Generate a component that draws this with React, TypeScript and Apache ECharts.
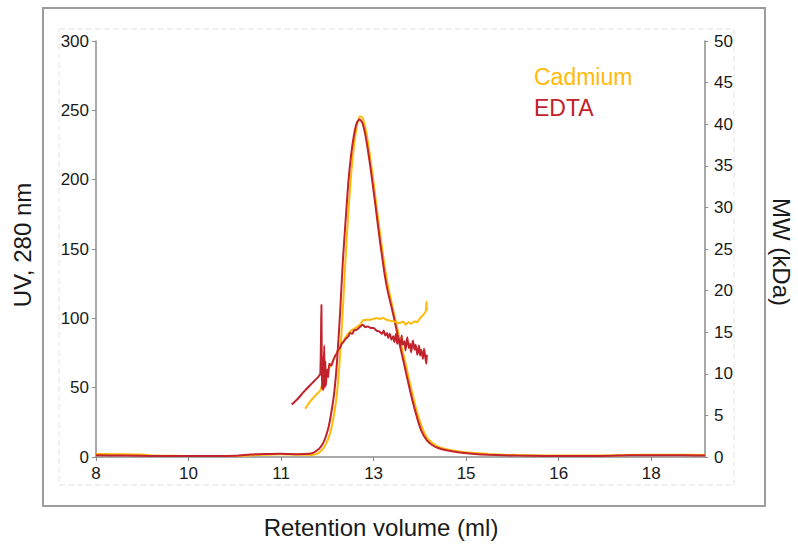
import React, { useEffect, useRef } from "react";
import * as echarts from "echarts";

const xTickValues = [8, 9.65, 11.3, 12.95, 14.6, 16.25, 17.9];
const xMin = 8;
const xMax = 18.86;
const uvMax = 300;
const mwMax = 50;

const seriesNames = ["Cadmium", "EDTA"];
const seriesColors = ["#FFBA0A", "#C1222C"];

const cadmiumUV: [number, number][] = [
  [8.0, 2.2], [8.3, 2.0], [8.8, 1.8], [9.0, 1.0], [9.5, 0.8], [10.0, 0.7], [10.5, 0.8],
  [10.8, 1.3], [11.0, 1.6], [11.3, 2.0], [11.6, 1.6], [11.85, 1.5], [11.95, 2.5], [12.0, 4],
  [12.05, 6], [12.1, 9.5], [12.15, 14], [12.2, 21], [12.25, 32], [12.3, 47], [12.35, 72],
  [12.4, 105], [12.45, 143], [12.5, 176], [12.55, 204], [12.6, 224], [12.65, 238], [12.7, 245.5],
  [12.75, 245], [12.8, 238], [12.85, 227], [12.9, 213], [12.95, 198], [13.0, 182], [13.05, 166],
  [13.1, 151], [13.15, 137], [13.2, 125], [13.3, 106], [13.4, 88], [13.5, 71], [13.6, 53],
  [13.7, 36], [13.8, 23], [13.9, 14], [14.0, 10], [14.1, 7.5], [14.25, 5.6], [14.45, 4.2],
  [14.7, 3.0], [15.0, 2.2], [15.3, 1.6], [15.7, 1.2], [16.0, 1.0], [17.0, 1.0], [17.5, 1.5],
  [18.0, 1.6], [18.5, 1.6], [18.86, 1.5],
];

const edtaUV: [number, number][] = [
  [8.0, 1.2], [8.5, 1.0], [9.0, 0.8], [9.5, 0.8], [10.0, 0.7], [10.5, 0.9], [10.75, 1.8],
  [11.0, 2.2], [11.3, 2.4], [11.6, 2.0], [11.8, 2.3], [11.88, 3.2], [11.95, 5], [12.0, 7],
  [12.05, 10], [12.1, 15], [12.15, 22], [12.2, 33], [12.25, 47], [12.3, 70], [12.35, 102],
  [12.4, 140], [12.45, 170], [12.5, 198], [12.55, 218], [12.6, 232], [12.65, 241], [12.7, 243.5],
  [12.75, 241], [12.8, 233], [12.85, 221], [12.9, 207], [12.95, 192], [13.0, 176], [13.05, 160],
  [13.1, 145], [13.15, 131], [13.2, 120], [13.3, 103], [13.4, 84], [13.5, 66], [13.6, 48],
  [13.7, 32], [13.8, 19], [13.9, 12], [14.0, 8.5], [14.1, 6.5], [14.25, 4.8], [14.45, 3.4],
  [14.7, 2.4], [15.0, 1.6], [15.5, 1.0], [16.0, 0.8], [17.0, 0.8], [17.5, 1.2], [18.0, 1.3],
  [18.5, 1.2], [18.86, 1.0],
];

const cadmiumMW: [number, number][] = [
  [11.73, 5.8], [11.8, 6.5], [11.9, 7.3], [12.0, 8.0], [12.03, 8.6], [12.05, 8.2], [12.08, 9.2],
  [12.1, 9.8], [12.15, 10.6], [12.2, 11.2], [12.25, 11.9], [12.3, 12.6], [12.35, 13.2],
  [12.41, 13.9], [12.47, 14.6], [12.53, 15.1], [12.6, 15.4], [12.66, 15.7], [12.71, 15.9],
  [12.76, 16.4], [12.82, 16.5], [12.89, 16.5], [12.95, 16.6], [13.0, 16.7], [13.06, 16.6],
  [13.12, 16.7], [13.18, 16.5], [13.24, 16.4], [13.3, 16.3], [13.36, 16.2], [13.42, 16.1],
  [13.48, 16.3], [13.52, 15.9], [13.57, 16.2], [13.62, 16.0], [13.67, 16.3], [13.72, 16.2],
  [13.77, 16.6], [13.81, 16.9], [13.85, 17.2], [13.88, 17.5], [13.895, 18.7], [13.9, 17.6],
];

const edtaMW: [number, number][] = [
  [11.49, 6.3], [11.6, 7.0], [11.7, 7.8], [11.8, 8.5], [11.9, 9.2], [11.96, 9.6], [12.0, 10.0],
  [12.02, 18.3], [12.025, 11.5], [12.03, 8.2], [12.04, 12.0], [12.05, 8.0], [12.06, 11.0],
  [12.07, 13.4], [12.08, 8.3], [12.09, 11.5], [12.1, 8.6], [12.12, 10.5], [12.14, 9.6],
  [12.16, 11.2], [12.2, 11.0], [12.23, 11.6], [12.26, 12.1], [12.29, 12.4], [12.32, 12.9],
  [12.35, 13.1], [12.38, 13.6], [12.41, 13.8], [12.45, 14.2], [12.5, 14.5], [12.53, 14.9],
  [12.57, 14.8], [12.6, 15.2], [12.65, 15.3], [12.7, 15.6], [12.76, 15.9], [12.8, 15.6],
  [12.85, 15.7], [12.9, 15.5], [12.95, 15.5], [13.0, 15.2], [13.05, 15.1], [13.1, 14.8],
  [13.13, 15.2], [13.16, 14.6], [13.19, 14.9], [13.21, 14.3], [13.24, 14.8], [13.27, 14.1],
  [13.3, 14.5], [13.32, 13.8], [13.35, 14.8], [13.37, 13.6], [13.4, 14.2], [13.43, 13.3],
  [13.45, 14.6], [13.47, 13.5], [13.5, 13.9], [13.52, 12.8], [13.55, 14.4], [13.58, 13.1],
  [13.6, 13.6], [13.62, 12.6], [13.65, 14.0], [13.68, 12.9], [13.7, 13.5], [13.73, 12.3],
  [13.76, 13.4], [13.78, 12.2], [13.8, 12.9], [13.83, 11.8], [13.85, 13.0], [13.87, 12.1],
  [13.89, 11.2], [13.9, 12.3],
];

const FONT = "Liberation Sans, Arial, sans-serif";
const AXIS_COLOR = "#8c8c8c";

export default function App() {
  const ref = useRef<HTMLDivElement>(null);

  useEffect(() => {
    if (!ref.current) return;
    const chart = echarts.init(ref.current, null, { renderer: "svg" });

    const lineSeries = (name: string, color: string, data: [number, number][], yIdx: number) => ({
      name,
      type: "line",
      yAxisIndex: yIdx,
      data,
      showSymbol: false,
      symbol: "none",
      smooth: 0.2,
      lineStyle: { color, width: 2 },
      itemStyle: { color },
      emphasis: { disabled: true },
    });

    chart.setOption({
      animation: false,
      textStyle: { fontFamily: FONT },
      grid: { left: 96, right: 93, top: 41, bottom: 90 },
      legend: {
        orient: "vertical",
        left: 524,
        top: 60,
        icon: "none",
        itemWidth: 0,
        itemGap: 8,
        selectedMode: false,
        data: [
          { name: seriesNames[0], textStyle: { color: seriesColors[0], fontSize: 23, fontFamily: FONT } },
          { name: seriesNames[1], textStyle: { color: seriesColors[1], fontSize: 23, fontFamily: FONT } },
        ],
      },
      xAxis: {
        type: "value",
        min: xMin,
        max: xMax,
        axisLine: { show: true, lineStyle: { color: AXIS_COLOR, width: 1.5 } },
        axisTick: { show: true, length: 4, lineStyle: { color: AXIS_COLOR }, customValues: xTickValues },
        axisLabel: {
          customValues: xTickValues,
          formatter: (v: number) => String(Math.round(v)),
          color: "#1a1a1a",
          fontSize: 17,
          fontFamily: FONT,
          margin: 8,
        },
        splitLine: { show: false },
      },
      yAxis: [
        {
          type: "value",
          min: 0,
          max: uvMax,
          interval: 50,
          position: "left",
          axisLine: { show: true, lineStyle: { color: AXIS_COLOR, width: 1.5 } },
          axisTick: { show: true, length: 4, lineStyle: { color: AXIS_COLOR } },
          axisLabel: { color: "#1a1a1a", fontSize: 17, fontFamily: FONT, margin: 7 },
          splitLine: { show: false },
        },
        {
          type: "value",
          min: 0,
          max: mwMax,
          interval: 5,
          position: "right",
          axisLine: { show: true, lineStyle: { color: AXIS_COLOR, width: 1.5 } },
          axisTick: { show: true, length: 3, lineStyle: { color: AXIS_COLOR } },
          axisLabel: { color: "#1a1a1a", fontSize: 17, fontFamily: FONT, margin: 9 },
          splitLine: { show: false },
        },
      ],
      series: [
        lineSeries(seriesNames[0], seriesColors[0], cadmiumUV, 0),
        lineSeries(seriesNames[1], seriesColors[1], edtaUV, 0),
        lineSeries(seriesNames[0], seriesColors[0], cadmiumMW, 1),
        lineSeries(seriesNames[1], seriesColors[1], edtaMW, 1),
      ],
      graphic: [
        {
          type: "rect",
          silent: true,
          z: -10,
          shape: { x: 43, y: 8, width: 722, height: 498 },
          style: { fill: "none", stroke: "#9c9c9c", lineWidth: 2 },
        },
        {
          type: "rect",
          silent: true,
          z: -10,
          shape: { x: 59, y: 29, width: 675, height: 456 },
          style: { fill: "none", stroke: "#e4e4e4", lineWidth: 1, lineDash: [6, 3] },
        },
        {
          type: "text",
          silent: true,
          x: 381,
          y: 527,
          style: {
            text: "Retention volume (ml)",
            fontSize: 24,
            fontFamily: FONT,
            fill: "#1a1a1a",
            align: "center",
            verticalAlign: "middle",
          },
        },
        {
          type: "text",
          silent: true,
          x: 22,
          y: 245,
          rotation: Math.PI / 2,
          style: {
            text: "UV, 280 nm",
            fontSize: 24,
            fontFamily: FONT,
            fill: "#1a1a1a",
            align: "center",
            verticalAlign: "middle",
          },
        },
        {
          type: "text",
          silent: true,
          x: 781,
          y: 252,
          rotation: -Math.PI / 2,
          style: {
            text: "MW (kDa)",
            fontSize: 24,
            fontFamily: FONT,
            fill: "#1a1a1a",
            align: "center",
            verticalAlign: "middle",
          },
        },
      ],
    });

    return () => chart.dispose();
  }, []);

  return (
    <div
      ref={ref}
      style={{ position: "fixed", left: 0, top: 0, width: 798, height: 547, background: "#fff" }}
    />
  );
}
